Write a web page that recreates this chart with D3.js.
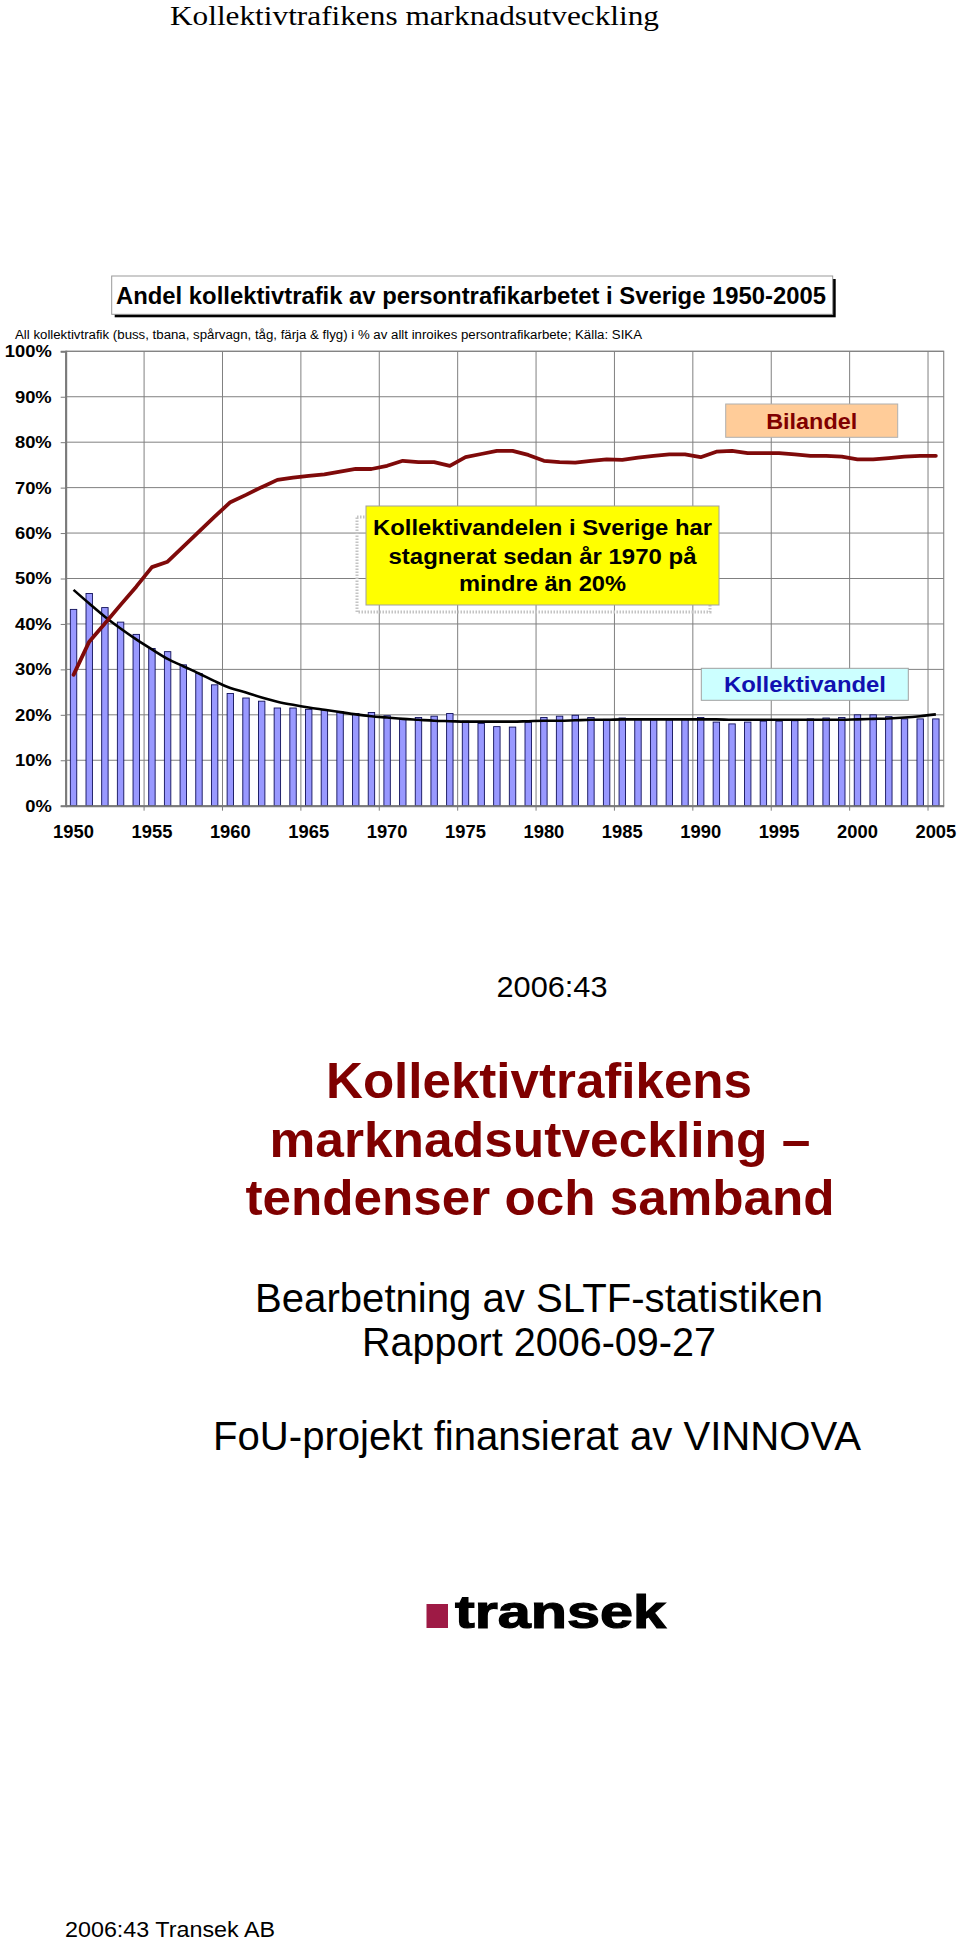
<!DOCTYPE html>
<html><head><meta charset="utf-8">
<script src="https://cdn.jsdelivr.net/npm/d3@7"></script>
<style>body{margin:0;background:#fff}svg{display:block}</style>
</head><body>
<svg id="c" width="960" height="1942"></svg>
<script>
const years = [1950,1951,1952,1953,1954,1955,1956,1957,1958,1959,1960,1961,1962,1963,1964,1965,1966,1967,1968,1969,1970,1971,1972,1973,1974,1975,1976,1977,1978,1979,1980,1981,1982,1983,1984,1985,1986,1987,1988,1989,1990,1991,1992,1993,1994,1995,1996,1997,1998,1999,2000,2001,2002,2003,2004,2005];
const kollektivandel = [43.2,46.7,43.6,40.4,37.7,34.6,33.9,31.0,29.1,26.6, 24.7,23.7,23.0,21.5,21.5,21.2,21.1,20.7,20.3,20.5, 19.8,19.0,19.4,19.7,20.3,18.6,18.1,17.4,17.3,18.3, 19.4,19.7,19.9,19.4,19.0,19.3,19.0,18.9,18.9,19.0, 19.4,18.4,18.0,18.4,18.6,18.6,18.7,19.1,19.3,19.4, 20.0,20.0,19.6,19.1,19.1,19.1];
const bilandel = [28.8,36.1,40.1,44.2,48.2,52.5,53.7,57.0,60.3,63.6, 66.8,68.4,70.1,71.7,72.2,72.6,72.9,73.5,74.1,74.1, 74.8,75.9,75.6,75.6,74.8,76.7,77.4,78.1,78.1,77.2, 75.9,75.6,75.5,75.9,76.2,76.1,76.6,77.0,77.3,77.3, 76.7,77.9,78.1,77.6,77.6,77.6,77.3,77.0,77.0,76.8, 76.2,76.2,76.5,76.8,77.0,77.0];
const trend = [47.5,44.5,41.6,39.0,36.6,34.4,32.3,30.7,29.1,27.4, 25.9,24.9,23.8,22.9,22.2,21.6,21.1,20.6,20.1,19.7, 19.4,19.1,18.9,18.7,18.6,18.5,18.5,18.5,18.5,18.6, 18.7,18.7,18.8,18.9,18.9,19.0,19.0,19.0,19.0,19.0, 19.0,19.0,18.9,18.9,18.9,18.9,18.9,18.9,18.9,18.9, 19.0,19.1,19.2,19.4,19.7,20.1];
const yTicks = [0,10,20,30,40,50,60,70,80,90,100];
const xLabelYears = [1950,1955,1960,1965,1970,1975,1980,1985,1990,1995,2000,2005];
const gridYears = [1955,1960,1965,1970,1975,1980,1985,1990,1995,2000,2005];

const svg = d3.select('#c');
const SANS = 'Liberation Sans, Arial, Helvetica, sans-serif';

function fitW(sel, w){ sel.attr('textLength', w).attr('lengthAdjust','spacingAndGlyphs'); return sel; }
function stretch(sel, k){ sel.each(function(){ const w=this.getComputedTextLength(); this.setAttribute('textLength', w*k); this.setAttribute('lengthAdjust','spacingAndGlyphs'); }); }
function txt(x,y,s,o){
  const t = svg.append('text').attr('x',x).attr('y',y).text(s)
    .attr('font-family', o.family||SANS).attr('font-size',o.size)
    .attr('font-weight', o.weight||'normal').attr('fill', o.fill||'#000')
    .attr('text-anchor', o.anchor||'start');
  if(o.width) fitW(t,o.width);
  return t;
}

// page header
txt(170,25,'Kollektivtrafikens marknadsutveckling',{family:'Liberation Serif, Times New Roman, serif',size:27,width:489});

// chart scales
const x = d3.scaleBand().domain(years).range([65.7,943.7]).padding(0);
const y = d3.scaleLinear().domain([0,100]).range([805.7,351.3]);

// title box
svg.append('rect').attr('x',114.7).attr('y',279).attr('width',721).attr('height',38.3).attr('fill','#000');
svg.append('rect').attr('x',111.7).attr('y',276).attr('width',721).attr('height',38.3).attr('fill','#fff').attr('stroke','#999').attr('stroke-width',1);
txt(116,304,'Andel kollektivtrafik av persontrafikarbetet i Sverige 1950-2005',{size:23,weight:'bold',width:710});
txt(15,339,'All kollektivtrafik (buss, tbana, spårvagn, tåg, färja & flyg) i % av allt inroikes persontrafikarbete; Källa: SIKA',{size:12,width:627});

const g = svg.append('g');
// plot frame & gridlines
g.append('rect').attr('x',x.range()[0]).attr('y',y(100)).attr('width',x.range()[1]-x.range()[0]).attr('height',y(0)-y(100)).attr('fill','#fff').attr('stroke','#8c8c8c').attr('stroke-width',1.2);
g.selectAll('.hg').data(yTicks.slice(1)).join('line').attr('x1',x.range()[0]).attr('x2',x.range()[1])
  .attr('y1',d=>y(d)).attr('y2',d=>y(d)).attr('stroke','#808080').attr('stroke-width',1);
g.selectAll('.vg').data(gridYears).join('line').attr('x1',d=>x(d)).attr('x2',d=>x(d))
  .attr('y1',y(100)).attr('y2',y(0)+5).attr('stroke','#808080').attr('stroke-width',1);

// annotation dotted outline
svg.append('rect').attr('x',357).attr('y',517).attr('width',353).attr('height',95)
  .attr('fill','none').attr('stroke','#c4c4c4').attr('stroke-width',3).attr('stroke-dasharray','1.5,1.5');

// bars
const bw = x.bandwidth()*0.41;
g.selectAll('.bar').data(years).join('rect')
  .attr('x',(d)=>x(d)+x.bandwidth()/2-bw/2)
  .attr('y',(d,i)=>y(kollektivandel[i]))
  .attr('width',bw).attr('height',(d,i)=>y(0)-y(kollektivandel[i]))
  .attr('fill','#9999ff').attr('stroke','#10105a').attr('stroke-width',0.9);

// axes
const yAxis = d3.axisLeft(y).tickValues(yTicks).tickFormat(d=>d+'%').tickSize(5).tickPadding(9);
const ya = svg.append('g').attr('transform',`translate(${x.range()[0]},0)`).call(yAxis);
ya.select('.domain').attr('stroke','#7a7a7a').attr('stroke-width',2);
ya.selectAll('.tick line').attr('stroke','#7a7a7a');
ya.selectAll('.tick text').attr('font-family',SANS).attr('font-size',17).attr('font-weight','bold').attr('fill','#000');
stretch(ya.selectAll('.tick text'),1.08);

const xAxis = d3.axisBottom(x).tickValues(xLabelYears).tickSize(0).tickPadding(20);
const xa = svg.append('g').attr('transform',`translate(0,${y(0)})`).call(xAxis);
xa.select('.domain').attr('stroke','#7a7a7a').attr('stroke-width',2);
xa.selectAll('.tick text').attr('font-family',SANS).attr('font-size',18).attr('font-weight','bold').attr('fill','#000');
stretch(xa.selectAll('.tick text'),1.02);

// trend line
const cx = (d)=>x(d)+x.bandwidth()/2;
g.append('path').datum(years).attr('fill','none').attr('stroke','#000').attr('stroke-width',2.6)
  .attr('d', d3.line().x(d=>cx(d)).y((d,i)=>y(trend[i])).curve(d3.curveMonotoneX));
// bilandel line
g.append('path').datum(years).attr('fill','none').attr('stroke','#7f0a0a').attr('stroke-width',3.8)
  .attr('stroke-linejoin','round').attr('stroke-linecap','round')
  .attr('d', d3.line().x(d=>cx(d)).y((d,i)=>y(bilandel[i])));

// yellow annotation
svg.append('rect').attr('x',366).attr('y',506).attr('width',353).attr('height',99).attr('fill','#ffff00').attr('stroke','#a0a0a0');
txt(542.5,535,'Kollektivandelen i Sverige har',{size:22,weight:'bold',anchor:'middle',width:339});
txt(542.5,564,'stagnerat sedan år 1970 på',{size:22,weight:'bold',anchor:'middle',width:308});
txt(542.5,591,'mindre än 20%',{size:22,weight:'bold',anchor:'middle',width:167});

// Bilandel label
svg.append('rect').attr('x',725.7).attr('y',404).attr('width',172).attr('height',33.3).attr('fill','#ffcc99').attr('stroke','#b0b0b0');
txt(811.7,429,'Bilandel',{size:22,weight:'bold',anchor:'middle',fill:'#800000',width:91});
// Kollektivandel label
svg.append('rect').attr('x',701.3).attr('y',668.3).attr('width',207).attr('height',32).attr('fill','#ccffff').attr('stroke','#a0a0a0');
txt(805,692,'Kollektivandel',{size:22,weight:'bold',anchor:'middle',fill:'#1010b0',width:162});

// lower page text
txt(552,997,'2006:43',{size:30,anchor:'middle',width:111});
const red = '#7f0000';
txt(539,1098,'Kollektivtrafikens',{size:50,weight:'bold',anchor:'middle',fill:red,width:426});
txt(540,1157,'marknadsutveckling –',{size:50,weight:'bold',anchor:'middle',fill:red,width:541});
txt(540,1215,'tendenser och samband',{size:50,weight:'bold',anchor:'middle',fill:red,width:589});
txt(539,1312,'Bearbetning av SLTF-statistiken',{size:40,anchor:'middle',width:568});
txt(539,1356,'Rapport 2006-09-27',{size:40,anchor:'middle',width:354});
txt(537,1450,'FoU-projekt finansierat av VINNOVA',{size:40,anchor:'middle',width:648});

// logo
svg.append('rect').attr('x',426.5).attr('y',1604).attr('width',21.5).attr('height',24).attr('fill','#9e1a45');
txt(455,1628,'transek',{size:46,weight:'bold',fill:'#000',width:211}).attr('stroke','#000').attr('stroke-width',1.2);

// footer
txt(65,1937,'2006:43 Transek AB',{size:22,width:210});
</script>
</body></html>
